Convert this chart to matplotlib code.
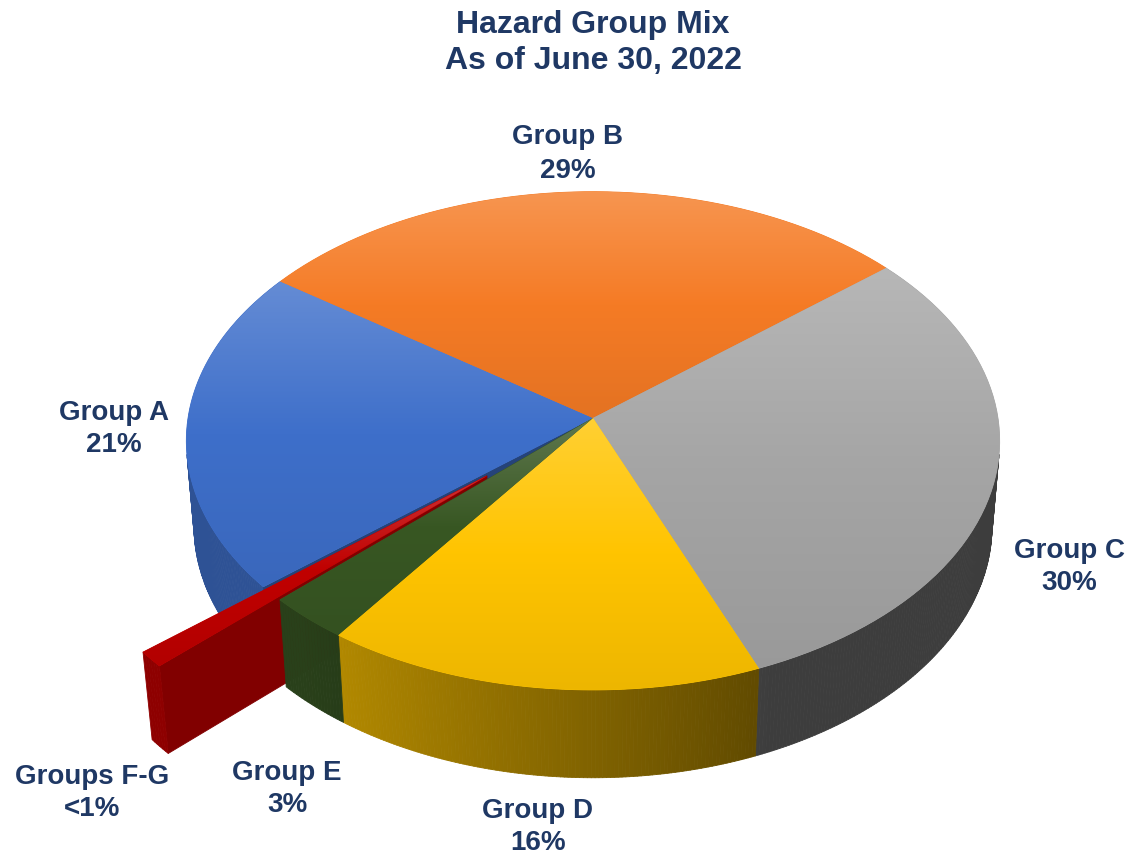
import numpy as np
import matplotlib
matplotlib.use("Agg")
import matplotlib.pyplot as plt
from matplotlib.patches import Polygon
from matplotlib.collections import PolyCollection
from matplotlib.colors import to_rgb

# chart data
groups = ['Group A', 'Group B', 'Group C', 'Group D', 'Group E', 'Groups F-G']
shares = [21, 29, 30, 16, 3, 1]
share_labels = ['21%', '29%', '30%', '16%', '3%', '<1%']
colors = ['#3E6FCA', '#F57B25', '#A5A5A5', '#FFC400', '#385723', '#C00000']
explode = [0, 0, 0, 0, 0, 0.344]
title = 'Hazard Group Mix\nAs of June 30, 2022'

# label anchor points (pixels)
label_xy = [(114, 429), (568, 154), (1069, 567), (538, 827), (287, 789), (92, 793)]

W, H = 1127, 858
CX, CY = 593, 418
SIN_EL = 0.61
COS_EL = np.sqrt(1 - SIN_EL ** 2)
DIST, FOCAL = 8.66, 3507
DEPTH = 0.27
START = -140.0
TEXT_COLOR = '#1F3864'
plt.rcParams['font.family'] = ['Liberation Sans', 'DejaVu Sans']


def project(x, y, z):
    v = y * SIN_EL + z * COS_EL
    w = DIST + y * COS_EL - z * SIN_EL
    return CX + FOCAL * x / w, CY - FOCAL * v / w


def arc(t0, t1, ox, oy, z, n=60):
    th = np.radians(np.linspace(t0, t1, n))
    return [project(ox + np.cos(a), oy + np.sin(a), z) for a in th]


def wall_shade(t):
    t = (t + 180) % 360 - 180
    return float(np.clip(0.37 + (-66 - t) * 0.0055, 0.37, 0.74))


def top_fill(ax, pts, base, z):
    poly = Polygon(pts, closed=True, facecolor=base, edgecolor=base, lw=0.6, zorder=z)
    ax.add_patch(poly)
    ys_pts = np.array(pts)[:, 1]
    y0, y1 = ys_pts.min(), ys_pts.max()
    ys = np.linspace(y0, y1, 256)
    t = (ys - y0) / (y1 - y0)
    light = np.clip(0.2 * (0.5 - t) / 0.5, 0, None)
    dark = np.clip(0.07 * (t - 0.5) / 0.5, 0, None)
    rgb = np.array(to_rgb(base))
    col = rgb[None, :] * (1 - light[:, None]) + light[:, None]
    col = col * (1 - dark[:, None])
    img = np.repeat(col[:, None, :], 2, axis=1)
    im = ax.imshow(img, extent=(0, W, y1, y0), origin='upper', aspect='auto',
                   zorder=z + 0.1, interpolation='bilinear')
    im.set_clip_path(poly)


def side_wall(ax, t0, t1, ox, oy, base, z):
    rgb = np.array(to_rgb(base))
    th = np.linspace(t0, t1, max(int(abs(t1 - t0) * 2), 2))
    quads, cols = [], []
    for a, b in zip(th[:-1], th[1:]):
        ra, rb = np.radians(a), np.radians(b)
        quads.append([project(ox + np.cos(ra), oy + np.sin(ra), 0),
                      project(ox + np.cos(rb), oy + np.sin(rb), 0),
                      project(ox + np.cos(rb), oy + np.sin(rb), -DEPTH),
                      project(ox + np.cos(ra), oy + np.sin(ra), -DEPTH)])
        cols.append(rgb * wall_shade((a + b) / 2))
    pc = PolyCollection(quads, facecolors=cols, edgecolors=cols, linewidths=0.6, zorder=z)
    ax.add_collection(pc)


def radial_face(ax, t, ox, oy, color, z):
    r = np.radians(t)
    pts = [project(ox, oy, 0), project(ox + np.cos(r), oy + np.sin(r), 0),
           project(ox + np.cos(r), oy + np.sin(r), -DEPTH), project(ox, oy, -DEPTH)]
    ax.add_patch(Polygon(pts, closed=True, facecolor=color, edgecolor=color, lw=0.6, zorder=z))


fig = plt.figure(figsize=(11.27, 8.58), dpi=100)
ax = fig.add_axes([0, 0, 1, 1])

# visible range of the outer wall (silhouette of the cylinder)
sil = np.degrees(np.arcsin(1.0 / (DIST * COS_EL)))
vis_lo, vis_hi = -180 + sil, -sil

cum = np.concatenate([[0], np.cumsum(shares)]) / sum(shares) * 360
n = len(shares)
for i in range(n):
    t_hi = START - cum[i]
    t_lo = START - cum[i + 1]
    mid = np.radians((t_hi + t_lo) / 2)
    ox, oy = explode[i] * np.cos(mid), explode[i] * np.sin(mid)
    base = colors[i]
    if explode[i] > 0:
        zw, zt = 2, 2.5
    elif i == 0:
        zw, zt = 1, 4
    else:
        zw, zt = 3, 4
    # outer wall, clipped to the visible front half
    for k in (-360, 0, 360):
        a0, a1 = max(t_lo + k, vis_lo), min(t_hi + k, vis_hi)
        if a1 > a0:
            side_wall(ax, a0, a1, ox, oy, base, zw)
    # radial face turned to the viewer on the gap side
    if explode[i] > 0:
        radial_face(ax, t_hi, ox, oy, tuple(np.array(to_rgb(base)) * 0.67), zw - 0.1)
    elif i == 0:
        radial_face(ax, t_hi, ox, oy, tuple(np.array(to_rgb(base)) * 0.6), zw)
    pts = [project(ox, oy, 0)] + arc(t_hi, t_lo, ox, oy, 0)
    top_fill(ax, pts, base, zt)

for i in range(n):
    x, y = label_xy[i]
    ax.text(x, y, groups[i] + '\n' + share_labels[i], ha='center', va='center',
            fontsize=20, fontweight='bold', color=TEXT_COLOR, linespacing=1.35, zorder=10)

ax.text(593, 43, title, ha='center', va='center', fontsize=23, fontweight='bold',
        color=TEXT_COLOR, linespacing=1.26, zorder=10)

ax.set_xlim(0, W)
ax.set_ylim(H, 0)
ax.axis('off')
fig.savefig('out.png', dpi=100, facecolor='white')
